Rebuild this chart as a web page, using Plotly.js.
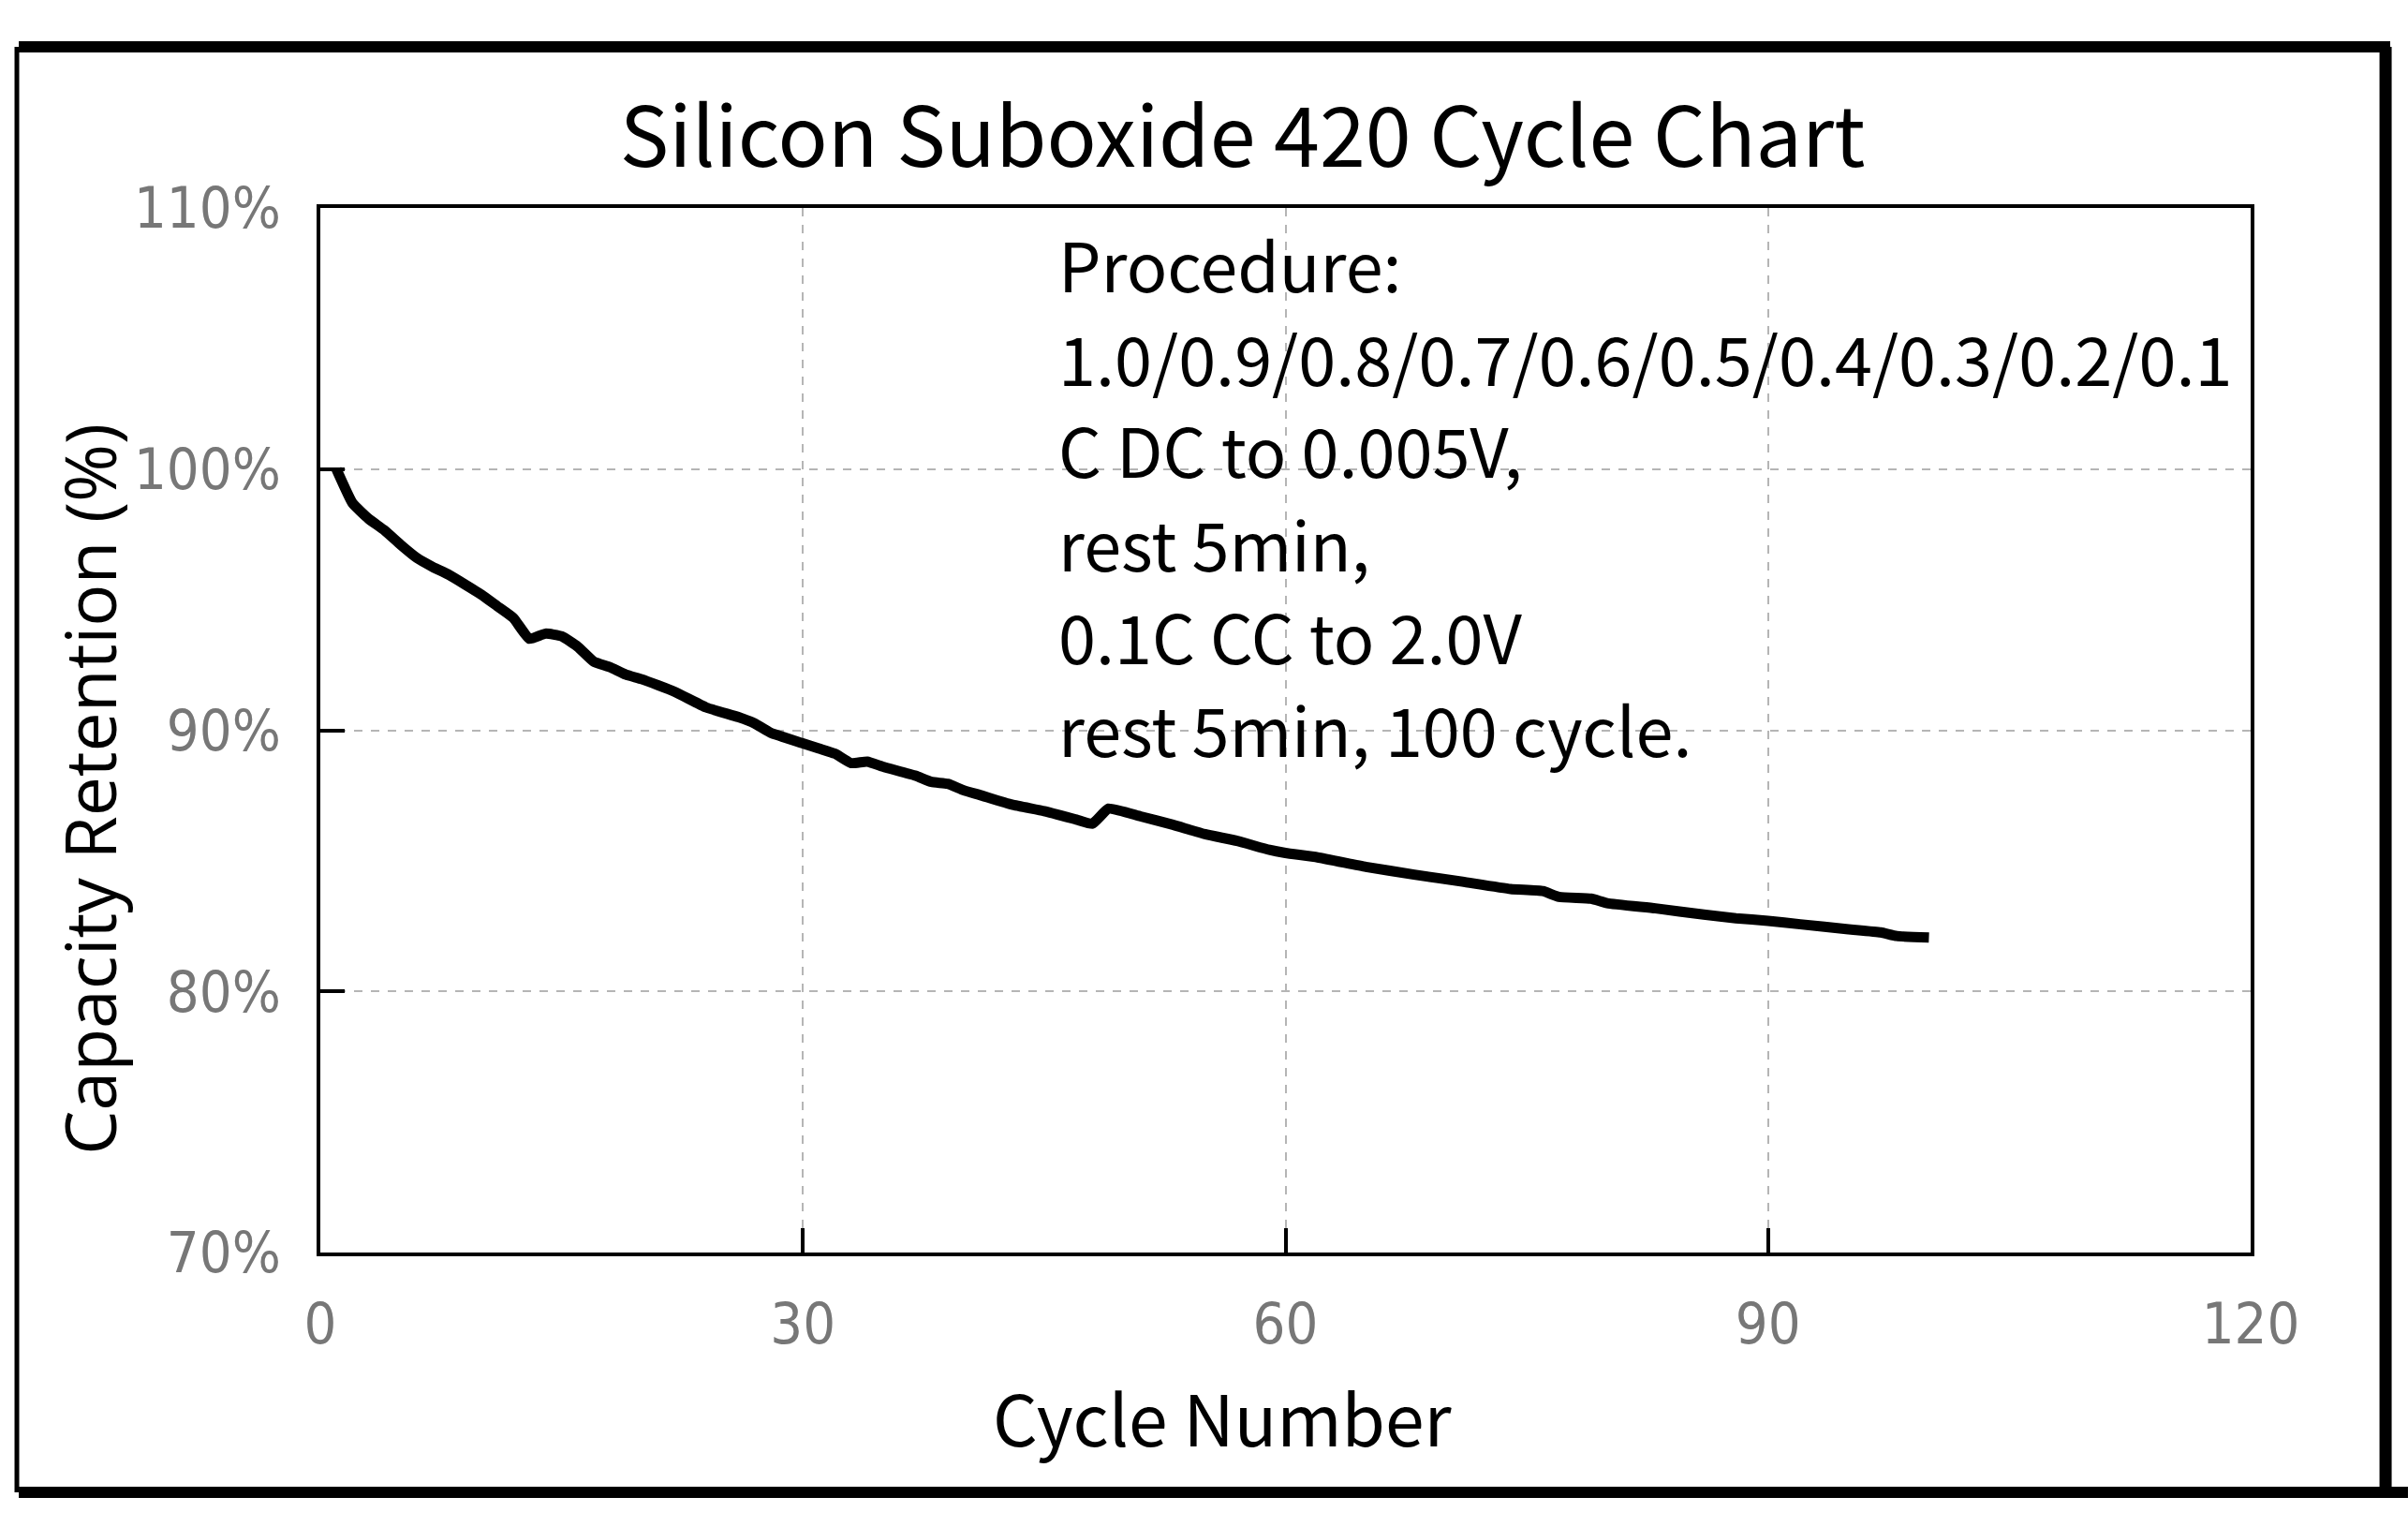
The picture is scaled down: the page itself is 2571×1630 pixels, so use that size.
<!DOCTYPE html>
<html>
<head>
<meta charset="utf-8">
<script src="https://cdn.plot.ly/plotly-3.0.1.min.js"></script>
<style>
  html, body { margin: 0; padding: 0; background: #ffffff; }
  #chart { width: 2571px; height: 1630px; }
</style>
</head>
<body>
<div id="chart"></div>
<script>
// values
var cycleNumber = [1, 2, 3, 4, 5, 6, 7, 8, 10, 11, 12, 13, 14, 15, 16, 17, 18, 19, 20,
  22, 24, 26, 27, 28, 30, 31, 32, 33, 34, 35, 37, 38, 39, 40, 41, 43, 45, 47, 48,
  49, 51, 53, 55, 57, 59, 60, 62, 65, 68, 71, 74, 76, 77, 79, 80, 83, 86, 88, 90,
  92, 95, 97, 98, 100];
var capacityRetention = [100.0, 98.7, 98.1, 97.65, 97.1, 96.6, 96.25, 95.95, 95.2, 94.75,
  94.3, 93.5, 93.7, 93.6, 93.2, 92.63, 92.42, 92.13, 91.95,
  91.48, 90.87, 90.5, 90.26, 89.9, 89.5, 89.3, 89.1, 88.74, 88.8, 88.6, 88.26, 88.02, 87.95,
  87.7, 87.52, 87.15, 86.9, 86.58, 86.42,
  87.0, 86.7, 86.38, 86.02, 85.76, 85.42, 85.3, 85.13, 84.77, 84.47, 84.2, 83.92, 83.84,
  83.62, 83.55, 83.38, 83.18, 82.94, 82.8, 82.7,
  82.57, 82.38, 82.26, 82.12, 82.06];

var xTicks = [0, 30, 60, 90, 120];
var yTicks = [70, 80, 90, 100, 110];
var yTickText = ["70%", "80%", "90%", "100%", "110%"];

var procedureLines = [
  "Procedure:",
  "1.0/0.9/0.8/0.7/0.6/0.5/0.4/0.3/0.2/0.1",
  "C DC to 0.005V,",
  "rest 5min,",
  "0.1C CC to 2.0V",
  "rest 5min, 100 cycle."
];

var tickFont = { family: "Liberation Sans Narrow, DejaVu Sans Condensed, sans-serif", size: 61, color: "#777777" };
var textFont = "Noto Sans CJK SC, Noto Sans, sans-serif";

var data = [
  {
    type: "scatter",
    mode: "lines",
    x: cycleNumber,
    y: capacityRetention,
    line: { color: "#000000", width: 11, shape: "spline", smoothing: 0.4 },
    hoverinfo: "x+y"
  }
];

// outer picture frame, drawn in paper units around the plot area
function frameLine(x0, y0, x1, y1, w) {
  return {
    type: "line", xref: "paper", yref: "paper",
    x0: x0, y0: y0, x1: x1, y1: y1,
    line: { color: "#000000", width: w }
  };
}

// procedure note: one annotation per line, about 99px apart
var annotations = procedureLines.map(function (txt, i) {
  return {
    text: txt,
    xref: "paper", yref: "paper",
    x: 0.3814, y: (1337 - (281 + 99 * i)) / 1115,
    xanchor: "left", yanchor: "middle",
    align: "left",
    showarrow: false,
    font: { family: textFont, size: 72, color: "#000000" }
  };
});

annotations.push({
  text: "Cycle Number",
  xref: "paper", yref: "paper",
  x: 0.4673, y: -0.1563,
  xanchor: "center", yanchor: "middle",
  showarrow: false,
  font: { family: textFont, size: 75, color: "#000000" }
});
annotations.push({
  text: "Capacity Retention (%)",
  xref: "paper", yref: "paper",
  x: -0.12, y: 0.4439,
  xanchor: "center", yanchor: "middle",
  textangle: -90,
  showarrow: false,
  font: { family: "Open Sans, sans-serif", size: 75, color: "#000000" }
});

var layout = {
  width: 2571,
  height: 1630,
  paper_bgcolor: "#ffffff",
  plot_bgcolor: "#ffffff",
  showlegend: false,
  margin: { l: 342, r: 168, t: 222, b: 293 },
  title: {
    text: "Silicon Suboxide 420 Cycle Chart",
    font: { family: textFont, size: 88, color: "#000000" },
    xref: "container", yref: "container",
    x: 0.516, y: 0.91,
    xanchor: "center", yanchor: "middle"
  },
  xaxis: {
    range: [0, 120],
    tickmode: "array",
    tickvals: xTicks,
    ticks: "inside",
    ticklen: 26,
    tickwidth: 4,
    tickcolor: "#000000",
    tickfont: tickFont,
    ticklabelstandoff: 20,
    showline: true,
    linecolor: "#000000",
    linewidth: 4,
    mirror: true,
    showgrid: true,
    gridcolor: "#b5b5b5",
    gridwidth: 2,
    griddash: "9px,9px",
    zeroline: false
  },
  yaxis: {
    range: [70, 110],
    tickmode: "array",
    tickvals: yTicks,
    ticktext: yTickText,
    ticks: "inside",
    ticklen: 26,
    tickwidth: 4,
    tickcolor: "#000000",
    tickfont: tickFont,
    ticklabelstandoff: 26,
    showline: true,
    linecolor: "#000000",
    linewidth: 4,
    mirror: true,
    showgrid: true,
    gridcolor: "#b5b5b5",
    gridwidth: 2,
    griddash: "9px,9px",
    zeroline: false
  },
  annotations: annotations,
  shapes: [
    frameLine(-0.1562, 1.1543, 1.0723, 1.1543, 12),
    frameLine(-0.1562, -0.2296, 1.0815, -0.2296, 12),
    frameLine(-0.1572, 1.1543, -0.1572, -0.2296, 5),
    frameLine(1.0699, 1.1543, 1.0699, -0.2296, 13)
  ]
};

Plotly.newPlot("chart", data, layout, { staticPlot: true, displayModeBar: false });
</script>
</body>
</html>
